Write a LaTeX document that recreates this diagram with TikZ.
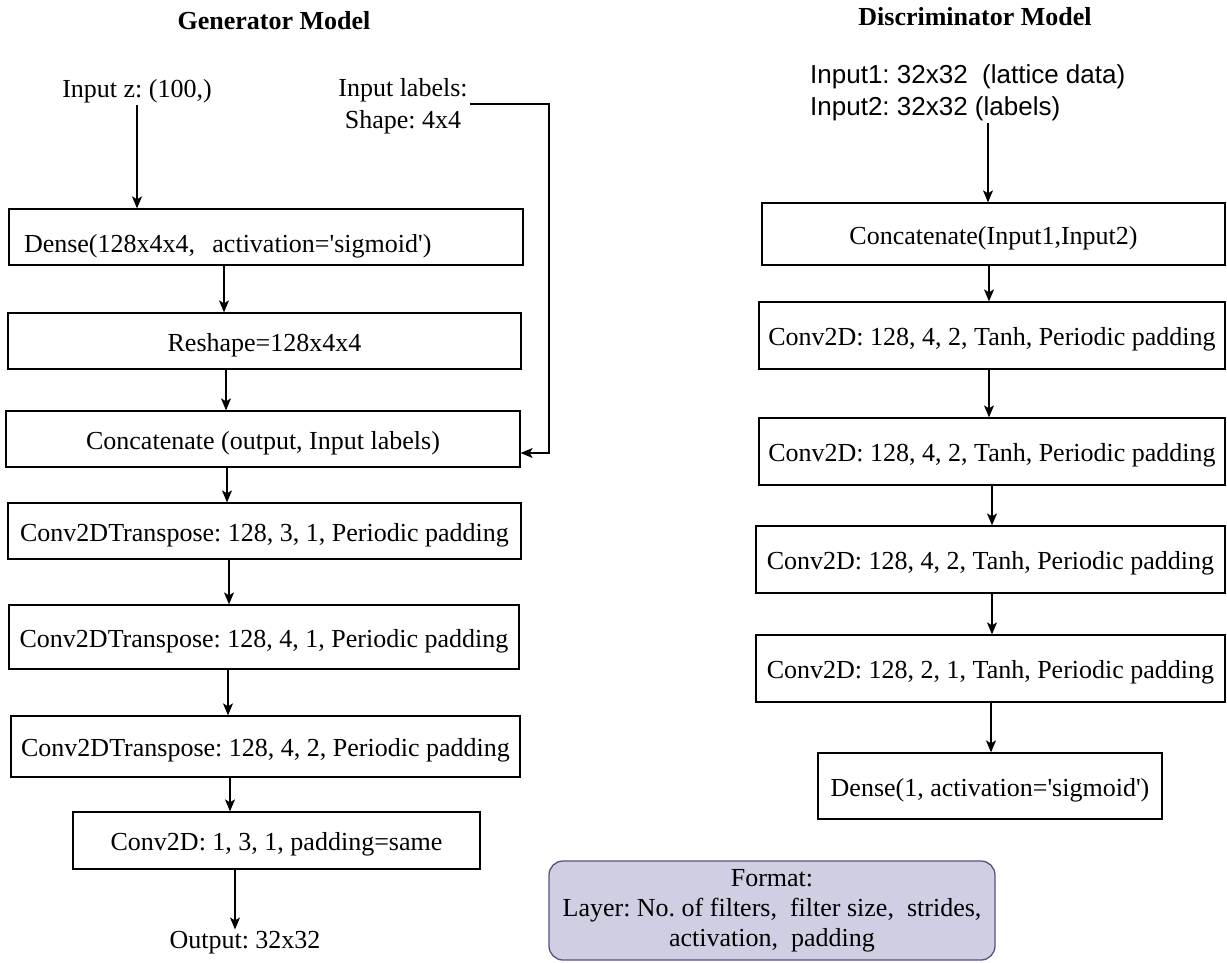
\documentclass[tikz,border=0pt]{standalone}
\usepackage{fontspec}
\setmainfont{Liberation Serif}
\newfontfamily\arialfont{Liberation Sans}
\usetikzlibrary{arrows.meta}
\frenchspacing

\definecolor{formatfill}{RGB}{208,206,227}
\definecolor{formatline}{RGB}{86,81,126}

\tikzset{
    layer/.style={draw, line width=1.3pt, inner sep=2pt, text height=20pt, text depth=0pt},
    flow/.style={line width=1.3pt, -{Stealth[length=12pt, width=10pt, inset=3pt]}},
    caption/.style={inner sep=2pt}
}

\begin{document}
\begin{tikzpicture}[x=1pt, y=-1pt, font=\fontsize{26}{32}\selectfont]

        % Fix the canvas to the reference size
        \useasboundingbox (0,0) rectangle (1227,962);

        % Titles
        \node[caption, font=\fontsize{26}{32}\selectfont\bfseries] (gtitle) at (274,21) {Generator Model};
        \node[caption, font=\fontsize{26}{32}\selectfont\bfseries] (dtitle) at (975,17) {Discriminator Model};

        % Generator inputs
        \node[caption] (zin) at (137,91) {Input z: (100,)};
        \node[caption, align=center] (lblin) at (403,106) {Input labels:\\Shape: 4x4};

        % Generator layers
        \node[layer, minimum height=56pt, text width=484pt, align=left, inner xsep=15pt, text height=30pt] (gdense) at (266,237) {Dense(128x4x4,\ \ activation=\textquotesingle sigmoid\textquotesingle)};
        \node[layer, minimum width=513pt, minimum height=56pt] (greshape) at (264.5,341) {Reshape=128x4x4};
        \node[layer, minimum width=514pt, minimum height=56pt] (gconcat) at (263,439) {Concatenate (output, Input labels)};
        \node[layer, minimum width=513pt, minimum height=56pt] (gtransA) at (264.5,531) {Conv2DTranspose: 128, 3, 1, Periodic padding};
        \node[layer, minimum width=510pt, minimum height=64pt] (gtransB) at (264,637) {Conv2DTranspose: 128, 4, 1, Periodic padding};
        \node[layer, minimum width=509pt, minimum height=61pt] (gtransC) at (265.5,746.5) {Conv2DTranspose: 128, 4, 2, Periodic padding};
        \node[layer, minimum width=407pt, minimum height=57pt] (gconv) at (276.5,840.5) {Conv2D: 1, 3, 1, padding=same};
        \node[caption] (gout) at (245,943) {Output: 32x32};

        % Discriminator inputs
        \node[caption, anchor=west, align=left, font=\arialfont\fontsize{26}{32}\selectfont] (din) at (808,93) {Input1: 32x32\ \ (lattice data)\\Input2: 32x32 (labels)};

        % Discriminator layers
        \node[layer, minimum width=463pt, minimum height=62pt] (dconcat) at (993.5,234) {Concatenate(Input1,Input2)};
        \node[layer, minimum width=466pt, minimum height=67pt] (dconvA) at (992,335.5) {Conv2D: 128, 4, 2, Tanh, Periodic padding};
        \node[layer, minimum width=466pt, minimum height=67pt] (dconvB) at (992,451.5) {Conv2D: 128, 4, 2, Tanh, Periodic padding};
        \node[layer, minimum width=469pt, minimum height=67pt] (dconvC) at (990.5,559.5) {Conv2D: 128, 4, 2, Tanh, Periodic padding};
        \node[layer, minimum width=469pt, minimum height=67pt] (dconvD) at (990.5,668.5) {Conv2D: 128, 2, 1, Tanh, Periodic padding};
        \node[layer, minimum width=344pt, minimum height=66pt] (ddense) at (990,786) {Dense(1, activation=\textquotesingle sigmoid\textquotesingle)};

        % Legend box
        \node[draw=formatline, fill=formatfill, line width=1.3pt, rounded corners=14pt,
              minimum width=446pt, minimum height=99pt, align=center,
              font=\fontsize{26}{30}\selectfont] (fmt) at (772,910.5)
              {Format:\\Layer: No. of filters,\ \ filter size,\ \ strides,\\activation,\ \ padding};

        % Generator connectors
        \draw[flow] (zin.south -| 137,0) -- (gdense.north -| 137,0);
        \foreach \a/\b/\x in {gdense/greshape/224, greshape/gconcat/226, gconcat/gtransA/227,
                              gtransA/gtransB/229, gtransB/gtransC/228, gtransC/gconv/230,
                              gconv/gout/235} {
            \draw[flow] (\a.south -| \x,0) -- (\b.north -| \x,0);
        }
        \coordinate (lblbend) at (549,104);
        \draw[flow] (lblin.east |- lblbend) -- (lblbend) |- ([yshift=-14pt]gconcat.east);

        % Discriminator connectors
        \draw[flow] (din.south -| 988,0) -- (dconcat.north -| 988,0);
        \foreach \a/\b/\x in {dconcat/dconvA/989, dconvA/dconvB/989, dconvB/dconvC/992,
                              dconvC/dconvD/992, dconvD/ddense/991} {
            \draw[flow] (\a.south -| \x,0) -- (\b.north -| \x,0);
        }

\end{tikzpicture}
\end{document}
